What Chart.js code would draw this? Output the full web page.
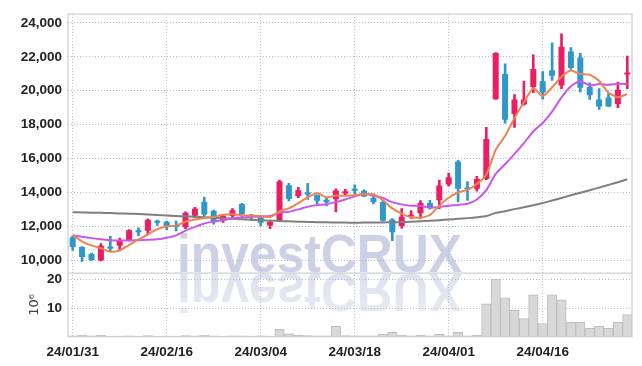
<!DOCTYPE html>
<html><head><meta charset="utf-8">
<script src="https://cdn.jsdelivr.net/npm/chart.js@4.4.1/dist/chart.umd.min.js"></script>
<style>html,body{margin:0;padding:0;background:#fff;}#wrap{width:642px;height:366px;}</style>
</head><body><div id="wrap"><canvas id="c" width="642" height="366"></canvas></div>
<script>
const dates = ['24/01/31','24/02/01','24/02/02','24/02/05','24/02/06','24/02/07','24/02/08','24/02/13','24/02/14','24/02/15',
'24/02/16','24/02/19','24/02/20','24/02/21','24/02/22','24/02/23','24/02/26','24/02/27','24/02/28','24/02/29',
'24/03/04','24/03/05','24/03/06','24/03/07','24/03/08','24/03/11','24/03/12','24/03/13','24/03/14','24/03/15',
'24/03/18','24/03/19','24/03/20','24/03/21','24/03/22','24/03/25','24/03/26','24/03/27','24/03/28','24/03/29',
'24/04/01','24/04/02','24/04/03','24/04/04','24/04/05','24/04/08','24/04/09','24/04/11','24/04/12','24/04/15',
'24/04/16','24/04/17','24/04/18','24/04/19','24/04/22','24/04/23','24/04/24','24/04/25','24/04/26','24/04/29'];
const tickLabels = ['24/01/31','24/02/16','24/03/04','24/03/18','24/04/01','24/04/16'];
const priceTicks = [10000,12000,14000,16000,18000,20000,22000,24000];
const volumeTicks = [10,20];
const open = [11350,10770,10370,9980,10810,10850,11150,11760,11730,12250,12270,12080,11940,12620,13450,12910,12330,12600,13320,12650,
12520,12050,12310,14420,13780,14010,13840,13570,13590,13940,14210,14090,13670,13430,12400,12020,12560,12770,13370,13530,
14460,15820,14260,14210,14790,19500,20990,18630,19190,20220,20550,21210,20310,22310,21960,20220,19480,19600,19210,20960];
const high = [11440,10800,10420,10980,11400,11300,11800,11900,12440,12370,12300,12310,12850,13120,13720,12950,12650,13040,13360,12700,
12550,12370,14730,14540,14300,14540,13860,13680,14210,14180,14440,14150,13820,13550,12450,13040,12930,13510,13530,14730,
15140,15890,14640,14950,17840,22250,21580,19770,20570,22120,21130,22820,23360,22550,22200,20470,20120,19830,20510,22040];
const low = [10580,9920,9980,9960,10560,10550,11130,11450,11500,12050,11800,11730,11860,12500,12600,12130,12230,12500,12550,12350,
12020,11860,12280,13490,13680,13590,13300,13200,12850,13820,13910,13740,13320,12300,11150,11880,12460,12460,13010,13040,
14360,13430,13530,14070,14750,19480,18090,17840,19150,19890,19500,20600,20120,21250,19930,19480,18900,19050,19000,20120];
const close = [10780,10190,10000,10850,10680,11160,11760,11650,12390,12200,11980,11960,12790,13040,12690,12270,12600,12950,12720,12560,
12210,12250,14650,13610,14130,13880,13510,13410,14110,14070,14090,13760,13430,12330,11650,12560,12660,13370,13080,14400,
14890,14210,14170,14790,17150,22220,18280,19480,19480,21280,19890,20880,22600,21340,20180,19730,19060,19060,20060,21070];
const volume = [0.3,0.6,0.3,0.6,0.2,0.2,0.3,0.2,0.4,0.2,0.2,0.2,0.4,0.3,0.6,0.3,0.2,0.3,0.3,0.2,
0.3,0.2,2.6,1.0,0.5,0.4,0.3,0.3,3.6,0.4,0.3,0.3,0.3,0.9,1.5,0.6,0.3,0.5,0.3,0.8,
0.3,1.5,0.3,0.5,11.5,20.1,13.6,9.2,6.3,14.6,4.6,14.6,12.9,5.0,5.0,2.9,3.7,2.9,5.0,7.7];
const ma5 = [11480,11100,10870,10700,10500,10576,10890,11220,11528,11832,11996,12036,12264,12394,12492,12550,12678,12710,12646,12620,
12608,12538,12878,13056,13370,13704,13956,13708,13808,13796,13838,13888,13892,13536,13052,12746,12526,12514,12664,13214,
13680,13990,14150,14492,15042,16508,17322,18384,19322,20148,19682,20202,20826,21198,20978,20946,20582,19874,19618,19796];
const ma10 = [11460,11380,11300,11230,11180,11160,11160,11180,11200,11230,11320,11463,11742,11961,12162,12273,12357,12487,12520,12556,
12579,12608,12794,12851,12995,13156,13247,13293,13432,13583,13771,13922,13800,13672,13424,13292,13207,13203,13100,13133,
13213,13258,13332,13578,14128,15094,15656,16267,16907,17595,18095,18762,19605,20260,20563,20314,20392,20350,20408,20387];
const ma60 = [12830,12815,12800,12790,12775,12760,12745,12720,12700,12670,12640,12610,12585,12560,12530,12500,12470,12440,12410,12380,
12355,12330,12310,12290,12270,12250,12240,12230,12220,12215,12210,12215,12220,12225,12235,12250,12265,12290,12320,12360,
12400,12440,12480,12530,12600,12790,12890,13010,13120,13240,13370,13520,13670,13830,13980,14130,14280,14440,14600,14770];

const UP = '#e91e63', DOWN = '#2f98c9';
const candleColor = close.map((c,i)=> c >= open[i] ? UP : DOWN);
const bodies = open.map((o,i)=>[Math.min(o,close[i]), Math.max(o,close[i])]);
const wicks = low.map((l,i)=>[l, high[i]]);
const GRID = 'rgba(170,178,210,0.85)';
const FRAME = '#cfd0d6';
const tickFont = {family:"'Liberation Sans',Arial,sans-serif", weight:'bold', size:13.5};

const watermark = {
  id:'watermark',
  beforeDraw(chart){
    const ctx = chart.ctx;
    const text = 'investCRUX';
    ctx.save();
    ctx.font = "bold 53px 'Liberation Sans', Arial, sans-serif";
    const w = ctx.measureText(text).width;
    const sx = 285 / w;
    ctx.textBaseline = 'alphabetic';
    ctx.save();
    ctx.translate(177, 271.5);
    ctx.scale(sx, 1);
    ctx.fillStyle = 'rgb(204,209,230)';
    ctx.fillText(text, 0, 0);
    ctx.restore();
    ctx.save();
    ctx.translate(177, 273.5);
    ctx.scale(sx, -1);
    const g = ctx.createLinearGradient(0, 0, 0, -40);
    g.addColorStop(0, 'rgb(222,225,238)');
    g.addColorStop(1, 'rgb(232,234,243)');
    ctx.fillStyle = g;
    ctx.fillText(text, 0, 0);
    ctx.restore();
    ctx.restore();
  }
};
const frame = {
  id:'frame',
  afterDatasetsDraw(chart){
    const {ctx, chartArea:{left,right,top,bottom}} = chart;
    const split = chart.scales.y.bottom;
    ctx.save();
    ctx.strokeStyle = FRAME; ctx.lineWidth = 1.3;
    ctx.strokeRect(left, top, right-left, bottom-top);
    ctx.beginPath(); ctx.moveTo(left, split); ctx.lineTo(right, split); ctx.stroke();
    ctx.restore();
  }
};

new Chart(document.getElementById('c'), {
  type:'bar',
  data:{
    labels: dates,
    datasets:[
      {type:'line', label:'MA5', data:ma5, yAxisID:'y', borderColor:'#ef8350', borderWidth:2, pointRadius:0, tension:0.2, order:0},
      {type:'line', label:'MA10', data:ma10, yAxisID:'y', borderColor:'#c957ec', borderWidth:2, pointRadius:0, tension:0.2, order:0},
      {type:'line', label:'MA60', data:ma60, yAxisID:'y', borderColor:'#7f7f7f', borderWidth:2, pointRadius:0, tension:0.2, order:0},
      {label:'wick', data:wicks, yAxisID:'y', backgroundColor:candleColor, barThickness:2, grouped:false, order:2},
      {label:'body', data:bodies, yAxisID:'y', backgroundColor:candleColor, barPercentage:0.64, categoryPercentage:1, minBarLength:2, grouped:false, order:1},
      {label:'volume', data:volume, yAxisID:'yv', backgroundColor:'#d8d8d8', borderColor:'#bdbdbd', borderWidth:1, barPercentage:1, categoryPercentage:1, grouped:false, order:3}
    ]
  },
  options:{
    responsive:false, animation:false, events:[],
    layout:{padding:{top:9.3, right:10, left:0, bottom:0}},
    plugins:{legend:{display:false}, tooltip:{enabled:false}},
    scales:{
      x:{
        type:'category', offset:true,
        grid:{offset:false, drawTicks:false, lineWidth:1,
          color:(c)=> tickLabels.includes(dates[c.index]) ? GRID : 'rgba(0,0,0,0)'},
        border:{display:false, dash:[1,2]},
        ticks:{autoSkip:false, maxRotation:0, minRotation:0, padding:7, color:'#222', font:tickFont,
          callback:(v,i)=> tickLabels.includes(dates[i]) ? dates[i] : ''},
        afterFit:(s)=>{ s.height = 29.3; }
      },
      yv:{
        position:'left', stack:'main', stackWeight:1, min:0, max:22.2,
        grid:{drawTicks:false, color:GRID},
        border:{display:false, dash:[1,2]},
        ticks:{padding:6, color:'#222', font:tickFont, callback:(v)=> String(v)},
        afterBuildTicks:(s)=>{ s.ticks = volumeTicks.map(v=>({value:v})); },
        title:{display:true, text:'10⁶', color:'#444', font:{family:"'DejaVu Sans',sans-serif", size:13}, padding:{top:27, bottom:0}},
        afterFit:(s)=>{ s.width = 68; }
      },
      y:{
        position:'left', stack:'main', stackWeight:4.08, min:9230, max:24520,
        grid:{drawTicks:false, color:GRID},
        border:{display:false, dash:[1,2]},
        ticks:{padding:6, color:'#222', font:tickFont, callback:(v)=> v.toLocaleString('en-US')},
        afterBuildTicks:(s)=>{ s.ticks = priceTicks.map(v=>({value:v})); },
        afterFit:(s)=>{ s.width = 68; }
      }
    }
  },
  plugins:[watermark, frame]
});
</script></body></html>
